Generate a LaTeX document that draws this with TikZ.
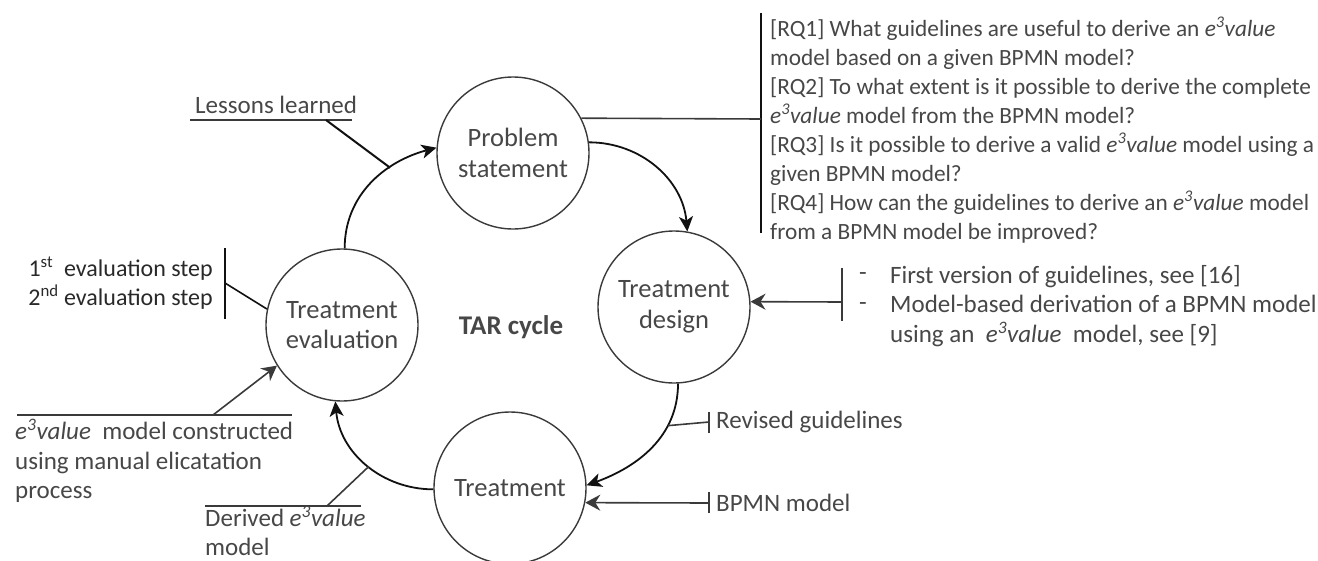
\documentclass[tikz,border=0pt]{standalone}
\usepackage{fontspec}
\setmainfont{Carlito}
\usetikzlibrary{arrows.meta}

\definecolor{ink}{HTML}{3A3A3A}
\definecolor{txt}{HTML}{474747}
\definecolor{edge}{HTML}{111111}

\newcommand{\evalue}{\textit{e\textsuperscript{3}value}}

\tikzset{
  stage/.style={circle, draw=ink, line width=1.4pt, minimum size=152pt,
    inner sep=0pt, align=center, text=txt, font=\fontsize{26.5}{30.5}\selectfont},
  flow/.style={draw=edge, line width=1.8pt,
    -{Stealth[length=15pt,width=14pt,inset=4pt]}},
  feed/.style={draw=ink, line width=1.6pt},
  feedarrow/.style={feed, -{Stealth[length=15pt,width=16pt,inset=5pt,fill=ink]}},
  bar/.style={draw=edge, line width=2.2pt},
  note/.style={text=txt, inner sep=0pt, align=left,
    font=\fontsize{25}{29.5}\selectfont},
  rqnote/.style={note, font=\fontsize{23.3}{29}\selectfont},
}

\begin{document}
\begin{tikzpicture}[x=1pt,y=1pt]
\useasboundingbox (0,0) rectangle (1318,-560);

% the four stages of the cycle
\node[stage] (ps) at (513,-153) {Problem\\statement};
\node[stage] (td) at (674,-307) {Treatment\\design};
\node[stage] (tr) at (510,-488) {Treatment};
\node[stage] (te) at (342,-325) {Treatment\\evaluation};

\node[text=txt, inner sep=0pt, font=\fontsize{27}{30}\selectfont\bfseries]
  (tar) at (511,-327) {TAR cycle};

% cycle arrows
\draw[flow] (ps.8) to[out=0,in=95] (td.80);
\draw[flow] (td.-87) to[out=-90,in=20] coordinate[pos=0.3] (rg) (tr.2);
\draw[flow] (tr.181) to[out=180,in=-85] coordinate[pos=0.48] (dv) (te.265);
\draw[flow] (te.88) to[out=90,in=195] coordinate[pos=0.67] (ll) (ps.176);

% research questions
\coordinate (rqtop) at (761,-13);
\coordinate (rqbot) at (761,-233);
\coordinate (rqjoin) at (761,-119);
\draw[bar] (rqtop) -- (rqbot);
\draw[feed] (ps.27) -- (rqjoin);
\node[rqnote, anchor=west] (rq) at (770,-130) {%
{[RQ1]} What guidelines are useful to derive an \evalue\\
model based on a given BPMN model?\\
{[RQ2]} To what extent is it possible to derive the complete\\
\evalue\ model from the BPMN model?\\
{[RQ3]} Is it possible to derive a valid \evalue\ model using a\\
given BPMN model?\\
{[RQ4]} How can the guidelines to derive an \evalue\ model\\
from a BPMN model be improved?};

% inputs to the treatment design
\coordinate (dtop) at (842,-268);
\coordinate (dbot) at (842,-321);
\coordinate (djoin) at (842,-302);
\draw[feed] (dtop) -- (dbot);
\draw[feedarrow] (djoin) -- (td.4);
\node[note, anchor=west] (dash) at (859,-291.5) {-\\-};
\node[note, anchor=west] (dnotes) at (890,-306) {%
First version of guidelines, see [16]\\
Model-based derivation of a BPMN model\\
using an \ \evalue\ \ model, see [9]};

% revised guidelines
\coordinate (rgend) at (709,-422);
\coordinate (rgtop) at (709,-412);
\coordinate (rgbot) at (709,-433);
\draw[feed] (rg) -- (rgend);
\draw[feed] (rgtop) -- (rgbot);
\node[note, anchor=west] (rgtext) at (716,-422) {Revised guidelines};

% BPMN model input
\coordinate (bpstart) at (709,-503);
\coordinate (bptop) at (709,-492);
\coordinate (bpbot) at (709,-513);
\draw[feedarrow] (bpstart) -- (tr.-11);
\draw[feed] (bptop) -- (bpbot);
\node[note, anchor=west] (bptext) at (716,-503) {BPMN model};

% lessons learned
\coordinate (ulL) at (190,-120);
\coordinate (ulR) at (352,-120);
\coordinate (ulK) at (326,-120);
\node[note, anchor=base west] (lessons) at (195,-113) {Lessons learned};
\draw[feed, line width=2pt] (ulL) -- (ulR);
\draw[draw=edge, line width=2pt] (ulK) -- (ll);

% evaluation steps
\coordinate (evtop) at (225,-248);
\coordinate (evbot) at (225,-319);
\coordinate (evjoin) at (225,-283);
\draw[bar] (evtop) -- (evbot);
\draw[draw=edge, line width=1.6pt] (evjoin) -- (te.168);
\node[note, align=right, anchor=east, text=edge!90,
  font=\fontsize{24}{29.5}\selectfont] (steps) at (213,-283) {%
1\textsuperscript{st}\ \ evaluation step\\
2\textsuperscript{nd} evaluation step};

% manually constructed model
\coordinate (mcL) at (17,-415);
\coordinate (mcR) at (292,-415);
\coordinate (mcK) at (213,-415);
\draw[feed] (mcL) -- (mcR);
\draw[feedarrow] (mcK) -- (te.212);
\node[note, anchor=west] (mctext) at (15,-461) {%
\evalue\ \ model constructed\\
using manual elicatation\\
process};

% derived model
\coordinate (dvL) at (205,-506);
\coordinate (dvR) at (361,-506);
\coordinate (dvK) at (327,-506);
\draw[feed] (dvL) -- (dvR);
\draw[feed] (dvK) -- (dv);
\node[note, anchor=west] (dvtext) at (205,-531) {%
Derived \evalue\\
model};
\end{tikzpicture}
\end{document}
